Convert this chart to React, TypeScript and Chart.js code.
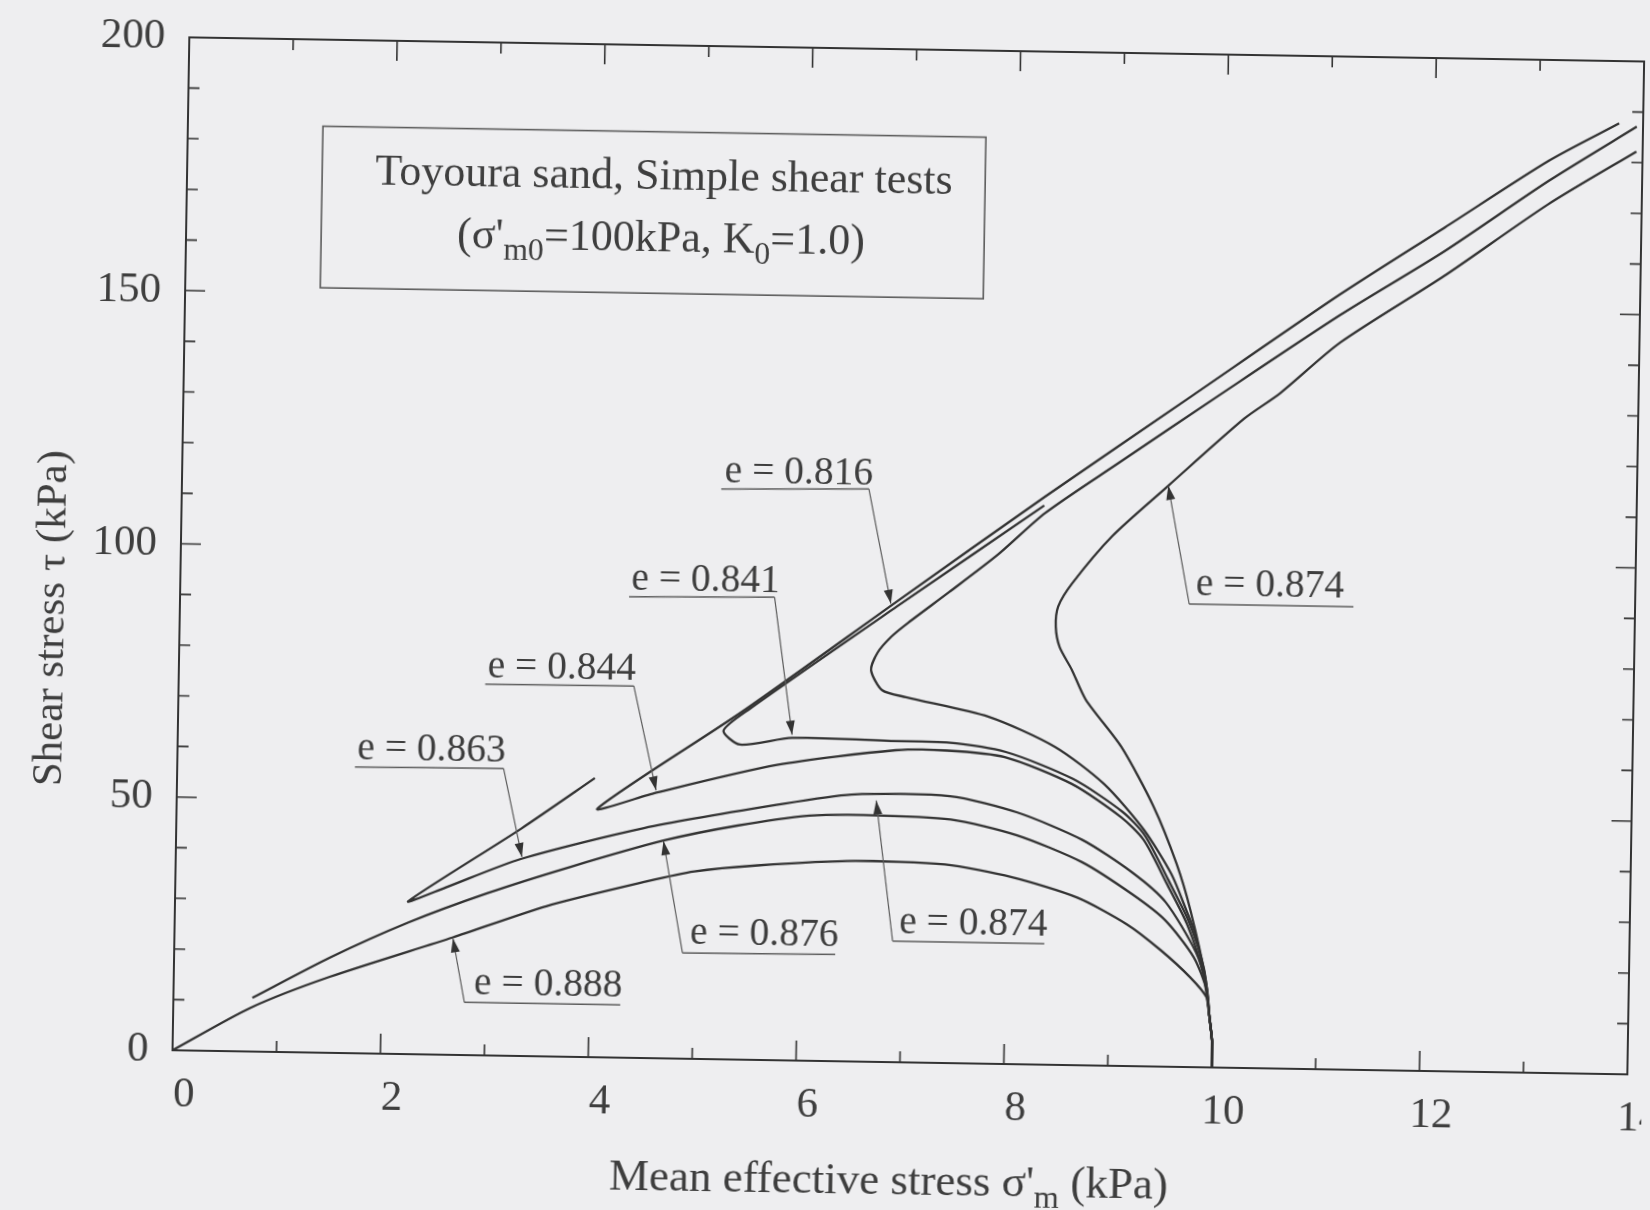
import React, { useEffect, useRef } from 'react';
import { Chart, registerables } from 'chart.js';

Chart.register(...registerables);

type Pt = [number, number];

// ---------- axes ----------
const xRange: Pt = [0, 14];
const yRange: Pt = [0, 200];
const xTickValues = [0, 2, 4, 6, 8, 10, 12, 14];
const yTickValues = [0, 50, 100, 150, 200];
const xMinorStep = 1;
const yMinorStep = 10;

// ---------- series (sigma'_m , tau) ----------
const e0888: Pt[] = [
  [10, 0], [10.0, 5], [9.97, 10], [9.94, 13.8], [9.78, 17.7], [9.49, 23.0], [9.16, 28.0],
  [8.68, 33.1], [8.05, 36.9], [7.4, 39.2], [6.54, 39.6], [5.6, 38.4], [4.99, 37.0],
  [4.54, 34.9], [3.58, 29.7], [2.68, 23.2], [1.5, 15.0], [0.74, 8.6], [0, 0],
];
const e0876: Pt[] = [
  [10, 0], [10.0, 5], [9.97, 10], [9.94, 15.2], [9.81, 21.7], [9.53, 28.9], [9.21, 33.9],
  [8.72, 40.1], [8.09, 45.2], [7.45, 48.1], [6.54, 48.7], [6.09, 48.4], [5.4, 46.2],
  [4.69, 43.0], [3.8, 37.5], [3.0, 32.0], [2.25, 26.0], [1.5, 18.8], [0.76, 10.6],
];
const e0863: Pt[] = [
  [10, 0], [10.0, 5], [9.97, 10], [9.94, 15.8], [9.83, 22.7], [9.53, 32.5], [9.2, 38.3],
  [8.72, 44.5], [8.09, 49.7], [7.44, 52.7], [6.49, 52.7], [5.77, 50.4], [4.5, 45.4],
  [3.32, 38.9], [2.6, 33.0], [2.245, 30.2], [3.32, 44.9], [4.02, 55.1],
];
const e0844: Pt[] = [
  [10, 0], [10.0, 5], [9.97, 10], [9.9, 18.8], [9.74, 28.2], [9.54, 36.1], [9.31, 44.7],
  [9.09, 49.1], [8.61, 55.5], [7.96, 60.6], [7.4, 61.7], [6.91, 61.6], [5.77, 58.3],
  [4.59, 52.3], [4.05, 49.1], [5.44, 68.9], [6.9, 91.0], [8.31, 112.2], [9.71, 132.6],
  [11.11, 153.0], [12.11, 166.6], [13.1, 180.1], [13.77, 187.7],
];
const e0841: Pt[] = [
  [10, 0], [10.0, 5], [9.97, 10], [9.91, 19.5], [9.75, 29.0], [9.55, 37.0], [9.32, 45.6],
  [9.1, 50.2], [8.62, 56.5], [7.97, 61.6], [7.4, 63.3], [6.91, 63.4], [5.91, 63.7],
  [5.41, 62.2], [5.25, 64.9], [5.5, 69.3], [6.9, 90.0], [8.3, 110.4],
];
const e0816: Pt[] = [
  [10, 0], [10.0, 5], [9.97, 10], [9.93, 16.5], [9.83, 25.7], [9.73, 31.0], [9.58, 38.1],
  [9.31, 46.7], [8.92, 55.6], [8.44, 62.8], [7.8, 68.5], [7.0, 72.1], [6.77, 73.4],
  [6.66, 77.3], [6.72, 80.8], [6.85, 84.0], [7.01, 86.8], [7.4, 93.0], [7.86, 100.5],
  [8.31, 108.9], [9.0, 118.9], [9.95, 132.5], [11.12, 149.0], [12.11, 161.9],
  [13.1, 176.1], [13.94, 187.1],
];
const e0874: Pt[] = [
  [10, 0], [10.0, 5], [9.97, 10], [9.93, 17.2], [9.77, 31.0], [9.63, 40.1], [9.4, 51.3],
  [9.08, 63.0], [8.73, 72.2], [8.59, 78.1], [8.47, 82.5], [8.43, 86.5], [8.45, 90.5],
  [8.58, 95.1], [8.96, 104.6], [9.49, 114.7], [10.21, 128.2], [10.55, 133.3],
  [11.12, 143.5], [12.11, 157.0], [13.1, 171.5], [13.94, 182.2],
];

const seriesNames = ['e = 0.888', 'e = 0.876', 'e = 0.863', 'e = 0.844', 'e = 0.841', 'e = 0.816', 'e = 0.874'];
const seriesData: Pt[][] = [e0888, e0876, e0863, e0844, e0841, e0816, e0874];

// ---------- texts ----------
type Part = { t: string; sub?: boolean };
const xTitleParts: Part[] = [{ t: "Mean effective stress σ'" }, { t: 'm', sub: true }, { t: ' (kPa)' }];
const yTitleText = 'Shear stress τ (kPa)';
const boxLine1: Part[] = [{ t: 'Toyoura sand, Simple shear tests' }];
const boxLine2: Part[] = [
  { t: "(σ'" }, { t: 'm0', sub: true }, { t: '=100kPa, K' }, { t: '0', sub: true }, { t: '=1.0)' },
];

// label annotations (data coordinates)
type Note = { text: string; at: Pt; u0: Pt; u1: Pt; from: 'left' | 'right'; tip: Pt };
const notes: Note[] = [
  { text: 'e = 0.816', at: [5.22, 113.9], u0: [5.19, 112.6], u1: [6.61, 113.1], from: 'right', tip: [6.84, 90.5] },
  { text: 'e = 0.841', at: [4.34, 92.4], u0: [4.32, 91.0], u1: [5.72, 91.4], from: 'right', tip: [5.91, 64.3] },
  { text: 'e = 0.844', at: [2.97, 74.7], u0: [2.95, 73.3], u1: [4.38, 73.4], from: 'right', tip: [4.61, 52.9] },
  { text: 'e = 0.863', at: [1.73, 58.1], u0: [1.71, 56.5], u1: [3.14, 56.7], from: 'right', tip: [3.33, 39.3] },
  { text: 'e = 0.876', at: [4.96, 22.8], u0: [4.89, 20.9], u1: [6.36, 21.1], from: 'left', tip: [4.69, 42.9] },
  { text: 'e = 0.874', at: [6.97, 25.5], u0: [6.91, 23.9], u1: [8.37, 23.9], from: 'left', tip: [6.73, 51.6] },
  { text: 'e = 0.888', at: [2.89, 12.0], u0: [2.8, 10.4], u1: [4.3, 10.4], from: 'left', tip: [2.68, 23.0] },
  { text: 'e = 0.874', at: [9.77, 93.2], u0: [9.71, 91.4], u1: [11.29, 91.4], from: 'left', tip: [9.49, 114.7] },
];
const boxX: Pt = [1.3, 7.68];
const boxY: Pt = [151.0, 182.9];
const boxLine1At: Pt = [4.59, 171.6];
const boxLine2At: Pt = [4.57, 159.3];

// ---------- style ----------
const BG = '#eeeef0';
const INK = '#333333';
const TXT = '#3e3e3e';
const THIN = '#5c5c5c';
const FAMILY = '"Liberation Serif", "Times New Roman", serif';
const font = (s: number) => `${s}px ${FAMILY}`;

function richWidth(ctx: CanvasRenderingContext2D, parts: Part[], size: number) {
  let w = 0;
  for (const p of parts) {
    ctx.font = font(p.sub ? size * 0.72 : size);
    w += ctx.measureText(p.t).width;
  }
  return w;
}
function drawRich(ctx: CanvasRenderingContext2D, parts: Part[], cx: number, base: number, size: number) {
  let x = cx - richWidth(ctx, parts, size) / 2;
  ctx.textAlign = 'left';
  ctx.textBaseline = 'alphabetic';
  for (const p of parts) {
    const s = p.sub ? size * 0.72 : size;
    ctx.font = font(s);
    ctx.fillText(p.t, x, base + (p.sub ? size * 0.24 : 0));
    x += ctx.measureText(p.t).width;
  }
}
function arrowHead(ctx: CanvasRenderingContext2D, fx: number, fy: number, tx: number, ty: number) {
  const a = Math.atan2(ty - fy, tx - fx);
  const len = 14, half = 4.5;
  ctx.beginPath();
  ctx.moveTo(tx, ty);
  ctx.lineTo(tx - len * Math.cos(a) + half * Math.sin(a), ty - len * Math.sin(a) - half * Math.cos(a));
  ctx.lineTo(tx - len * Math.cos(a) - half * Math.sin(a), ty - len * Math.sin(a) + half * Math.cos(a));
  ctx.closePath();
  ctx.fill();
}

const decor = {
  id: 'decor',
  afterDraw(chart: any) {
    const { ctx, chartArea: a, scales } = chart;
    const x = scales.x, y = scales.y;
    const P = (p: Pt) => ({ x: x.getPixelForValue(p[0]), y: y.getPixelForValue(p[1]) });
    ctx.save();
    // frame
    ctx.strokeStyle = INK;
    ctx.lineWidth = 2;
    ctx.strokeRect(a.left, a.top, a.right - a.left, a.bottom - a.top);
    // inward ticks
    ctx.lineWidth = 1.6;
    ctx.beginPath();
    for (let v = xRange[0]; v <= xRange[1] + 1e-9; v += xMinorStep) {
      const px = x.getPixelForValue(v);
      const L = xTickValues.includes(v) ? 20 : 11;
      ctx.moveTo(px, a.bottom); ctx.lineTo(px, a.bottom - L);
      ctx.moveTo(px, a.top); ctx.lineTo(px, a.top + L);
    }
    for (let v = yRange[0]; v <= yRange[1] + 1e-9; v += yMinorStep) {
      const py = y.getPixelForValue(v);
      const L = yTickValues.includes(v) ? 20 : 11;
      ctx.moveTo(a.left, py); ctx.lineTo(a.left + L, py);
      ctx.moveTo(a.right, py); ctx.lineTo(a.right - L, py);
    }
    ctx.stroke();

    // axis titles
    ctx.fillStyle = TXT;
    drawRich(ctx, xTitleParts, a.left + 718, a.bottom + 132, 45);
    ctx.save();
    ctx.translate(a.left - 116, a.top + 583);
    ctx.rotate(-Math.PI / 2);
    ctx.font = font(43);
    ctx.textAlign = 'center';
    ctx.textBaseline = 'alphabetic';
    ctx.fillText(yTitleText, 0, 0);
    ctx.restore();

    // info box
    const b0 = P([boxX[0], boxY[1]]);
    const b1 = P([boxX[1], boxY[0]]);
    ctx.strokeStyle = THIN;
    ctx.lineWidth = 1.6;
    ctx.strokeRect(b0.x, b0.y, b1.x - b0.x, b1.y - b0.y);
    const l1 = P(boxLine1At);
    const l2 = P(boxLine2At);
    drawRich(ctx, boxLine1, l1.x, l1.y, 44);
    drawRich(ctx, boxLine2, l2.x, l2.y, 44);

    // curve labels with leaders
    for (const n of notes) {
      const t = P(n.at), u0 = P(n.u0), u1 = P(n.u1), tip = P(n.tip);
      const elbow = n.from === 'right' ? u1 : u0;
      ctx.strokeStyle = THIN;
      ctx.lineWidth = 1.5;
      ctx.beginPath();
      ctx.moveTo(u0.x, u0.y); ctx.lineTo(u1.x, u1.y);
      ctx.stroke();
      ctx.lineWidth = 1.2;
      ctx.beginPath();
      ctx.moveTo(elbow.x, elbow.y); ctx.lineTo(tip.x, tip.y);
      ctx.stroke();
      ctx.fillStyle = INK;
      arrowHead(ctx, elbow.x, elbow.y, tip.x, tip.y);
      ctx.fillStyle = TXT;
      ctx.font = font(39.5);
      ctx.textAlign = 'left';
      ctx.textBaseline = 'alphabetic';
      ctx.fillText(n.text, t.x, t.y);
    }
    ctx.restore();
  },
};

export default function App() {
  const ref = useRef<HTMLCanvasElement>(null);
  useEffect(() => {
    const tickFont = { family: FAMILY, size: 43 };
    const chart = new Chart(ref.current!, {
      type: 'scatter',
      data: {
        datasets: seriesData.map((pts, i) => ({
          label: seriesNames[i],
          data: pts.map(([px, py]) => ({ x: px, y: py })),
          showLine: true,
          pointRadius: 0,
          pointHoverRadius: 0,
          borderColor: INK,
          borderWidth: 2.3,
          tension: 0.25,
          fill: false,
        })),
      },
      options: {
        animation: false,
        responsive: false,
        devicePixelRatio: 1,
        layout: { padding: { left: 0, top: 48, right: 15, bottom: 0 }, autoPadding: false } as any,
        plugins: { legend: { display: false }, tooltip: { enabled: false } },
        scales: {
          x: {
            type: 'linear',
            min: xRange[0],
            max: xRange[1],
            grid: { display: false, drawTicks: false },
            border: { display: false },
            afterBuildTicks: (s: any) => { s.ticks = xTickValues.map((v) => ({ value: v })); },
            afterFit: (s: any) => {
              s.height = 149;
              s.paddingLeft = 0; s.paddingRight = 0; s.paddingTop = 0; s.paddingBottom = 0;
            },
            ticks: {
              autoSkip: false, maxRotation: 0, minRotation: 0,
              font: tickFont, color: TXT, padding: 19, labelOffset: 12,
              callback: (v: any) => String(v),
            },
          },
          y: {
            type: 'linear',
            min: yRange[0],
            max: yRange[1],
            grid: { display: false, drawTicks: false },
            border: { display: false },
            afterBuildTicks: (s: any) => { s.ticks = yTickValues.map((v) => ({ value: v })); },
            afterFit: (s: any) => {
              s.width = 180;
              s.paddingLeft = 0; s.paddingRight = 0; s.paddingTop = 0; s.paddingBottom = 0;
            },
            ticks: { font: tickFont, color: TXT, padding: 24, callback: (v: any) => String(v) },
          },
        },
      },
      plugins: [decor],
    } as any);
    return () => chart.destroy();
  }, []);
  return (
    <div style={{ position: 'absolute', left: 0, top: 0, width: 1650, height: 1210, overflow: 'hidden', background: BG }}>
      <canvas
        ref={ref}
        width={1650}
        height={1210}
        style={{ display: 'block', width: 1650, height: 1210, transform: 'rotate(0.95deg)', transformOrigin: '825px 605px' }}
      />
    </div>
  );
}
